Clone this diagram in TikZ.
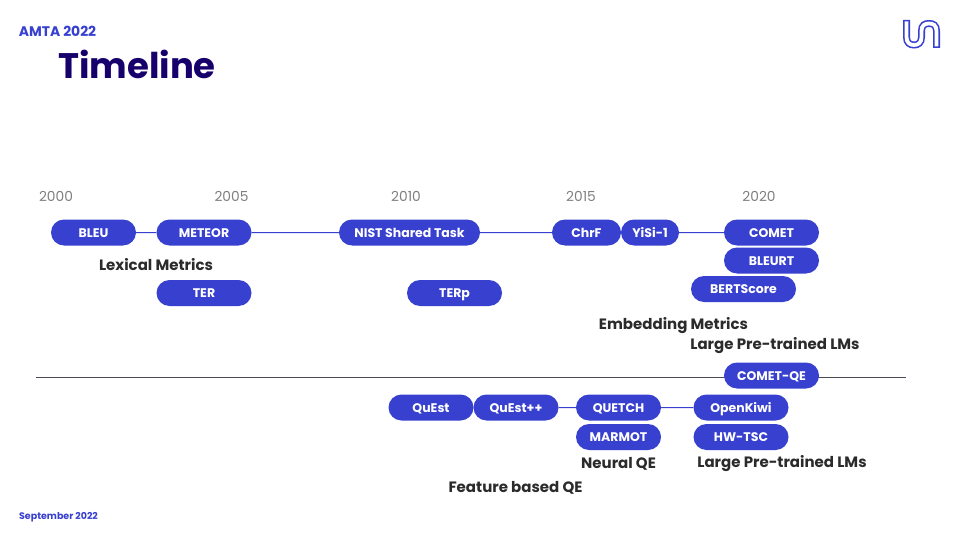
\documentclass[tikz,border=0pt]{standalone}
\usepackage{fontspec}
\setmainfont{Poppins}
\usetikzlibrary{shapes.misc}
\definecolor{pillblue}{HTML}{3740CF}
\definecolor{titleblue}{HTML}{17006B}
\definecolor{inkgray}{HTML}{2B2B2B}
\definecolor{railgray}{HTML}{4A4A55}
\tikzset{
  pill/.style={rounded rectangle,fill=pillblue,text=white,font=\fontsize{12.5}{14}\selectfont\bfseries,minimum height=26pt,inner sep=0pt,text height=9pt,text depth=0pt},
  year/.style={text=gray,font=\fontsize{13.8}{15}\selectfont},
  group/.style={text=inkgray,font=\fontsize{15}{17}\selectfont\bfseries},
  wire/.style={draw=pillblue,line width=1pt}
}
\begin{document}
\begin{tikzpicture}[x=1pt,y=-1pt]

  \useasboundingbox[fill=white] (0,0) rectangle (960,540);

  % header
  \node[text=pillblue,font=\fontsize{13.9}{15}\selectfont\bfseries] (conf) at (57.5,31.5) {AMTA 2022};
  \node[text=titleblue,font=\fontsize{35.5}{40}\selectfont\bfseries] (title) at (137,64.5) {Timeline};
  \node[text=pillblue,font=\fontsize{9.5}{11}\selectfont\bfseries] (date) at (58.5,517) {September 2022};

  % logo
  \draw[pillblue,line width=7pt] (906.5,20) -- (906.5,37) .. controls (906.5,43) and (910,45) .. (914,45)
    .. controls (918,45) and (921.5,43) .. (921.5,37) -- (921.5,31)
    .. controls (921.5,25) and (925,23.5) .. (929,23.5) .. controls (933,23.5) and (936.5,25) .. (936.5,31) -- (936.5,48);
  \draw[white,line width=3.8pt] (906.5,21.5) -- (906.5,37) .. controls (906.5,43) and (910,45) .. (914,45)
    .. controls (918,45) and (921.5,43) .. (921.5,37) -- (921.5,31)
    .. controls (921.5,25) and (925,23.5) .. (929,23.5) .. controls (933,23.5) and (936.5,25) .. (936.5,31) -- (936.5,46.5);

  % years
  \node[year] (y2000) at (56,196.5) {2000};
  \node[year] (y2005) at (231.5,196.5) {2005};
  \node[year] (y2010) at (406,196.5) {2010};
  \node[year] (y2015) at (581,196.5) {2015};
  \node[year] (y2020) at (759,196.5) {2020};

  % upper row
  \node[pill,minimum width=85pt] (bleu) at (93.5,232.5) {BLEU};
  \node[pill,minimum width=95pt] (meteor) at (204,232.5) {METEOR};
  \node[pill,minimum width=141pt] (nist) at (409.5,232.5) {NIST Shared Task};
  \node[pill,minimum width=69pt] (chrf) at (586.5,232.5) {ChrF};
  \node[pill,minimum width=58pt] (yisi) at (650,232.5) {YiSi-1};
  \node[pill,minimum width=95pt] (comet) at (771.5,232.5) {COMET};
  \node[pill,minimum width=95pt] (bleurt) at (771.5,260.5) {BLEURT};
  \node[pill,minimum width=105pt] (bertscore) at (743.5,289) {BERTScore};
  \node[pill,minimum width=95pt] (ter) at (204,293) {TER};
  \node[pill,minimum width=95pt] (terp) at (454.5,293) {TERp};

  \draw[wire] (bleu) -- (meteor);
  \draw[wire] (meteor) -- (nist);
  \draw[wire] (nist) -- (chrf);
  \draw[wire] (yisi) -- (comet);

  \node[group] (lexical) at (156,265) {Lexical Metrics};
  \node[group] (embedding) at (673.5,325.5) {Embedding Metrics};
  \node[group] (largeup) at (775,345.5) {Large Pre-trained LMs};

  % lower row
  \coordinate (railstart) at (36,377.5);
  \coordinate (railend) at (906,377.5);
  \draw[railgray,line width=1pt] (railstart) -- (railend);
  \node[pill,minimum width=95pt] (cometqe) at (771.5,375.5) {COMET-QE};

  \node[pill,minimum width=85pt] (quest) at (431,407.5) {QuEst};
  \node[pill,minimum width=85pt] (questpp) at (516,407.5) {QuEst++};
  \node[pill,minimum width=85pt] (quetch) at (618.5,407.5) {QUETCH};
  \node[pill,minimum width=95pt] (openkiwi) at (741,407.5) {OpenKiwi};
  \node[pill,minimum width=85pt] (marmot) at (618.5,437) {MARMOT};
  \node[pill,minimum width=95pt] (hwtsc) at (741,437) {HW-TSC};

  \draw[wire] (questpp) -- (quetch);
  \draw[wire] (quetch) -- (openkiwi);

  \node[group] (neural) at (618.5,463.5) {Neural QE};
  \node[group] (largelow) at (782,463.5) {Large Pre-trained LMs};
  \node[group] (feature) at (515.5,487.5) {Feature based QE};

\end{tikzpicture}
\end{document}
